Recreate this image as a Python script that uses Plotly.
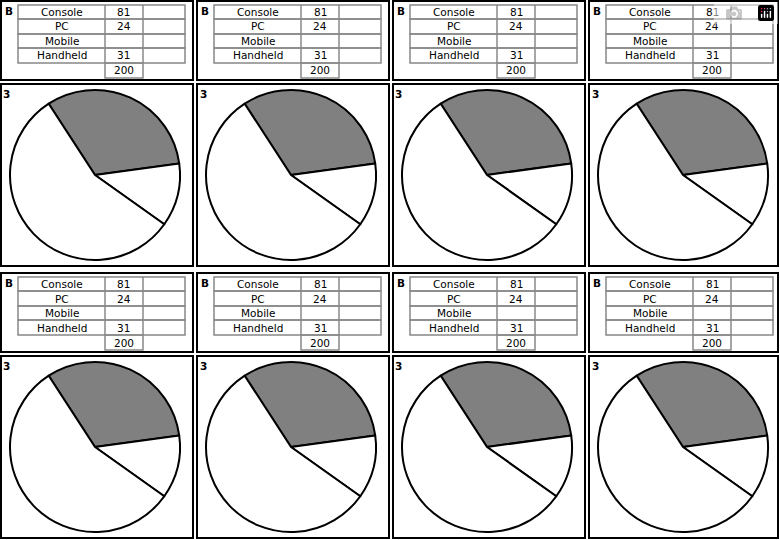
import plotly.graph_objects as go

categories = ["Console", "PC", "Mobile", "Handheld"]
table_values = ["81", "24", "", "31"]
total_label = "200"
pie_labels = ["Mobile", "PC", "Console + Handheld"]
pie_values = [64, 24, 112]
pie_colors = ["#808080", "#ffffff", "#ffffff"]
panel_letter = "B"
pie_number = "3"

W, H = 780, 540
col_x = [(1, 193), (197, 389), (393, 585), (589, 778)]
row_y = [(1, 80, 84, 266), (273, 352, 356, 538)]

def px(x): return x / W
def py(y): return 1 - y / H

fig = go.Figure()
shapes, ann = [], []

def text(x, y, t, size=10.5):
    ann.append(dict(x=px(x), y=py(y), text=t, showarrow=False, xref="paper", yref="paper",
                    xanchor="center", yanchor="middle", font=dict(size=size)))

for (t0, t1, p0, p1) in row_y:
    for (x0, x1) in col_x:
        for (a, b) in [(t0, t1), (p0, p1)]:
            shapes.append(dict(type="rect", xref="paper", yref="paper", x0=px(x0), x1=px(x1),
                               y0=py(b), y1=py(a), line=dict(color="black", width=2)))
        cx = [x0 + 17, x0 + 104, x0 + 142, x0 + 184]
        ry = [t0 + 4, t0 + 18, t0 + 33, t0 + 47, t0 + 62, t0 + 77]
        g = dict(color="#888888", width=1.5)
        for i in range(4):
            shapes.append(dict(type="rect", xref="paper", yref="paper", x0=px(cx[0]), x1=px(cx[3]),
                               y0=py(ry[i + 1]), y1=py(ry[i]), line=g))
        for c in (cx[1], cx[2]):
            shapes.append(dict(type="line", xref="paper", yref="paper", x0=px(c), x1=px(c),
                               y0=py(ry[4]), y1=py(ry[0]), line=g))
        shapes.append(dict(type="rect", xref="paper", yref="paper", x0=px(cx[1]), x1=px(cx[2]),
                           y0=py(ry[5]), y1=py(ry[4]), line=g))
        for i, (c, v) in enumerate(zip(categories, table_values)):
            ym = (ry[i] + ry[i + 1]) / 2
            text((cx[0] + cx[1]) / 2, ym, c)
            if v:
                text((cx[1] + cx[2]) / 2, ym, v)
        text((cx[1] + cx[2]) / 2, (ry[4] + ry[5]) / 2, total_label)
        text(x0 + 8, t0 + 10, "<b>" + panel_letter + "</b>")
        text(x0 + 6, p0 + 10, "<b>" + pie_number + "</b>")
        pcx, pcy, r = x0 + 94, p0 + 91, 85
        fig.add_trace(go.Pie(labels=pie_labels, values=pie_values, sort=False, direction="clockwise",
                             rotation=-33, textinfo="none", hoverinfo="label+value",
                             marker=dict(colors=pie_colors, line=dict(color="black", width=2)),
                             domain=dict(x=[px(pcx - r), px(pcx + r)], y=[py(pcy + r), py(pcy - r)]),
                             showlegend=False))

fig.update_layout(width=W, height=H, margin=dict(l=0, r=0, t=0, b=0), paper_bgcolor="white",
                  shapes=shapes, annotations=ann, font=dict(family="DejaVu Sans", color="black"))
fig.write_html("out.html", post_script="document.body.style.margin='0';")
